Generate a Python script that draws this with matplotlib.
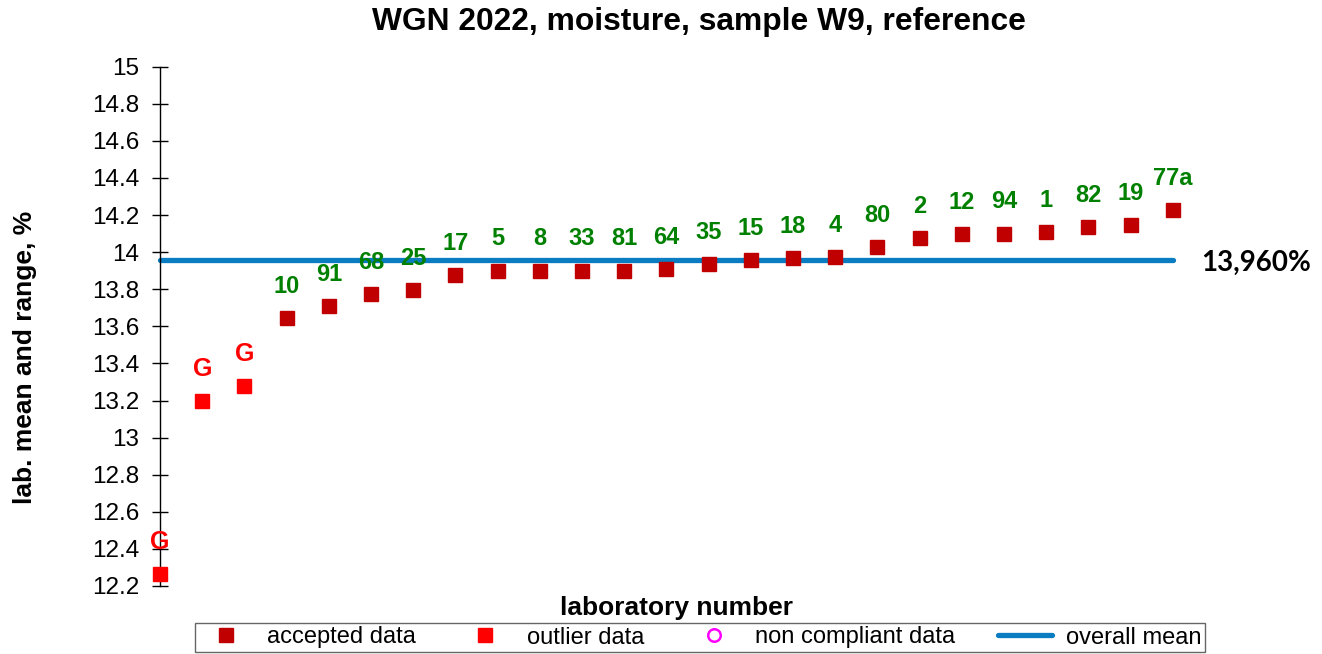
import matplotlib
matplotlib.use("Agg")
import matplotlib.pyplot as plt
from matplotlib.lines import Line2D

plt.rcParams['font.family'] = ['Liberation Sans', 'DejaVu Sans']

# ---- data ----
lab_labels = ['G', 'G', 'G', '10', '91', '68', '25', '17', '5', '8', '33', '81', '64',
              '35', '15', '18', '4', '80', '2', '12', '94', '1', '82', '19', '77a']
lab_means = [12.264, 13.20, 13.28, 13.645, 13.71, 13.774, 13.796, 13.877, 13.90, 13.90,
             13.90, 13.90, 13.909, 13.936, 13.957, 13.968, 13.973, 14.027, 14.076,
             14.098, 14.10, 14.109, 14.135, 14.146, 14.227]
is_outlier = [True, True, True] + [False] * 22
overall_mean = 13.96
mean_label = '13,960%'
title = 'WGN 2022, moisture, sample W9, reference'
xlabel = 'laboratory number'
ylabel = 'lab. mean and range, %'
yticks = [12.2, 12.4, 12.6, 12.8, 13, 13.2, 13.4, 13.6, 13.8, 14, 14.2, 14.4, 14.6, 14.8, 15]
ytick_labels = ['12.2', '12.4', '12.6', '12.8', '13', '13.2', '13.4', '13.6', '13.8',
                '14', '14.2', '14.4', '14.6', '14.8', '15']

ACC = '#C00000'
OUT = '#FF0000'
GREEN = '#008000'
BLUE = '#0A7CC1'

W, H = 1322, 654
fig = plt.figure(figsize=(W / 100, H / 100), dpi=100)
x0, x1 = 160, 1172.7
ytop, ybot = 66.7, 586
ax = fig.add_axes([x0 / W, 1 - ybot / H, (x1 - x0) / W, (ybot - ytop) / H])

n = len(lab_means)
xs = list(range(1, n + 1))

ax.plot([1, n], [overall_mean, overall_mean], color=BLUE, lw=3.8,
        solid_capstyle='round', zorder=2, clip_on=False)

for xi, v, lab, o in zip(xs, lab_means, lab_labels, is_outlier):
    c = OUT if o else ACC
    ax.plot(xi, v, marker='s', ms=10.2, color=c, mec=c, ls='none', zorder=3, clip_on=False)
    ax.annotate(lab, (xi, v), xytext=(0, 23), textcoords='offset points',
                ha='center', va='center', fontsize=17 if not o else 18, fontweight='bold',
                color=OUT if o else GREEN, zorder=4, annotation_clip=False)

ax.set_xlim(1, n)
ax.set_ylim(12.2, 15)
ax.set_yticks(yticks)
ax.set_yticklabels(ytick_labels)
ax.set_xticks([])
for s in ['top', 'right', 'bottom']:
    ax.spines[s].set_visible(False)
ax.spines['left'].set_linewidth(1.0)
ax.tick_params(axis='y', direction='inout', length=12, width=1.0, labelsize=17.5, pad=9)

fig.text(699 / W, 1 - 22 / H, title, ha='center', va='center', fontsize=22.9, fontweight='bold')
fig.text(676 / W, 1 - 608 / H, xlabel, ha='center', va='center', fontsize=19, fontweight='bold')
fig.text(25 / W, 1 - 357 / H, ylabel, ha='center', va='center', rotation=90,
         fontsize=19, fontweight='bold')
ax.text(1256 / W, 1 - 263 / H, mean_label, transform=fig.transFigure, ha='center',
        va='center', fontsize=20, fontweight='bold', family=['Lato', 'DejaVu Sans'])

handles = [
    Line2D([], [], marker='s', ls='none', color=ACC, ms=10),
    Line2D([], [], marker='s', ls='none', color=OUT, ms=10),
    Line2D([], [], marker='o', ls='none', mfc='none', mec='#FF00FF', mew=1.8, ms=9),
    Line2D([], [], color=BLUE, lw=3.8, solid_capstyle='round'),
]
names = ['accepted data', 'outlier data', 'non compliant data', 'overall mean']
leg = fig.legend(handles, names, loc='center', bbox_to_anchor=(700 / W, 1 - 637.5 / H),
                 ncol=4, fontsize=17, frameon=True, fancybox=False, edgecolor='#404040',
                 handlelength=2.3, handletextpad=0.6, columnspacing=1.8,
                 borderpad=0.15, borderaxespad=0)
leg.get_frame().set_linewidth(1.0)

fig.savefig('out.png', dpi=100)
